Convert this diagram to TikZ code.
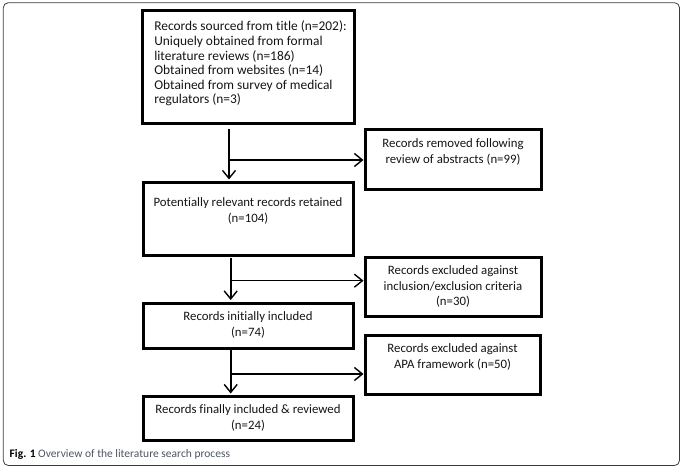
\documentclass[tikz,border=0pt]{standalone}
\usepackage{fontspec}
\setmainfont{Carlito}[Ligatures=NoCommon]
\usetikzlibrary{arrows.meta}
\newcommand\liftup[2]{\raisebox{#1}[\height][\depth]{#2}}
\definecolor{capc}{RGB}{75,85,100}
\definecolor{framec}{RGB}{60,60,60}
\begin{document}
\begin{tikzpicture}[x=1pt,y=-1pt,
  box/.style={draw, line width=3pt, rectangle, inner sep=0pt,
    font=\fontsize{12.8}{15.8}\selectfont, text=black!92},
  arr/.style={line width=1.6pt, -{Straight Barb[length=8pt,width=13pt,line width=1.4pt]}},
  ]
\useasboundingbox (0,0) rectangle (683,473);
\draw[framec, line width=0.8pt, rounded corners=5pt] (3.3,2.7) rectangle (679.5,465.5);

\node[box, minimum width=212pt, minimum height=113pt] (b1) at (248,67.5)
  {\liftup{3pt}{\fontsize{13.4}{14.6}\selectfont\begin{tabular}{@{\hspace{5pt}}l@{}}
   Records sourced from title (n=202):\\
   Uniquely obtained from formal\\
   literature reviews (n=186)\\
   Obtained from websites (n=14)\\
   Obtained from survey of medical\\
   regulators (n=3)\end{tabular}}};

\node[box, minimum width=176pt, minimum height=60pt] (b2) at (453,159.5)
  {\liftup{7.5pt}{\begin{tabular}{@{}c@{}}Records removed following\\review of abstracts (n=99)\end{tabular}}};

\node[box, minimum width=210pt, minimum height=73pt] (b3) at (248,219)
  {\liftup{7.7pt}{\begin{tabular}{@{}c@{}}Potentially relevant records retained\\(n=104)\end{tabular}}};

\node[box, minimum width=176pt, minimum height=58pt] (b4) at (453,287)
  {\begin{tabular}{@{}c@{}}Records excluded against\\inclusion/exclusion criteria\\(n=30)\end{tabular}};

\node[box, minimum width=210pt, minimum height=45pt] (b5) at (248,325.5)
  {\begin{tabular}{@{}c@{}}Records initially included\\(n=74)\end{tabular}};

\node[box, minimum width=175pt, minimum height=59.5pt] (b6) at (452.5,365)
  {\liftup{7.5pt}{\begin{tabular}{@{}c@{}}Records excluded against\\APA framework (n=50)\end{tabular}}};

\node[box, minimum width=210pt, minimum height=44pt] (b7) at (248,418)
  {\begin{tabular}{@{}c@{}}Records finally included \& reviewed\\(n=24)\end{tabular}};

% connectors
\coordinate (s1) at (229,129);
\coordinate (j1) at (229,160);
\draw[arr, shorten >=1.5pt] (s1) -- (s1 |- b3.north);
\draw[arr] (j1) -- (j1 -| b2.west);

\coordinate (s2) at (230.7,258);
\coordinate (j2) at (230.7,280.7);
\draw[arr, shorten >=1.5pt] (s2) -- (s2 |- b5.north);
\draw[arr] (j2) -- (j2 -| b4.west);

\coordinate (s3) at (230.7,348);
\coordinate (j3) at (230.7,374);
\draw[arr, shorten >=1pt] (s3) -- (s3 |- b7.north);
\draw[arr] (j3) -- (j3 -| b6.west);

\node[anchor=base west, inner sep=0pt, font=\fontsize{11.5}{13}\selectfont] (cap) at (9.5,457.5)
  {\textbf{Fig. 1} \textcolor{capc}{Overview of the literature search process}};
\end{tikzpicture}
\end{document}
